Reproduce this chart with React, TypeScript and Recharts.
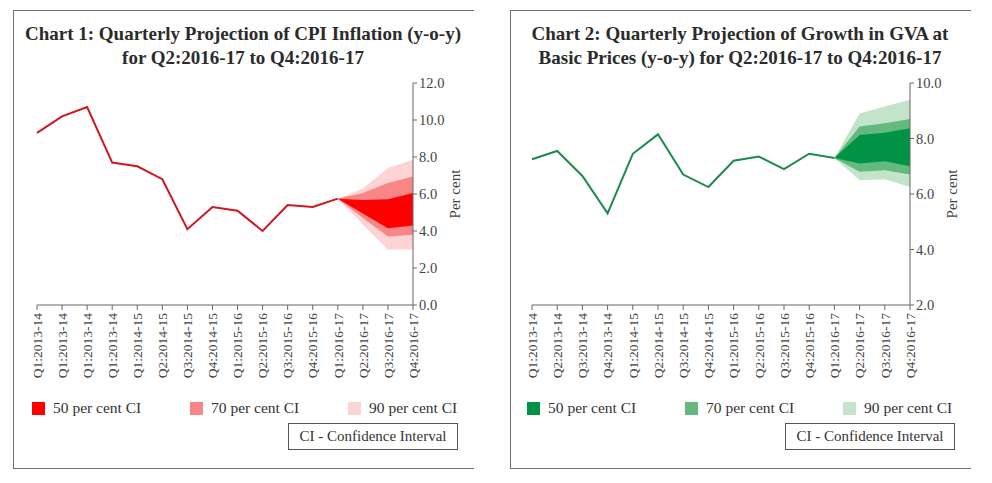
import React from "react";
import { ComposedChart, Area, Line, XAxis, YAxis } from "recharts";

// Chart 1 - CPI inflation (labels kept as printed in the source)
const CPI_QUARTERS = [
  "Q1:2013-14", "Q1:2013-14", "Q1:2013-14", "Q1:2013-14",
  "Q1:2014-15", "Q2:2014-15", "Q3:2014-15", "Q4:2014-15",
  "Q1:2015-16", "Q2:2015-16", "Q3:2015-16", "Q4:2015-16",
  "Q1:2016-17", "Q2:2016-17", "Q3:2016-17", "Q4:2016-17",
];
const CPI_ACTUAL = [9.3, 10.2, 10.7, 7.7, 7.5, 6.8, 4.1, 5.3, 5.1, 4.0, 5.4, 5.3, 5.75];
// fan bands start at Q1:2016-17 (index 12)
const CPI_LO90 = [5.75, 4.35, 3.0, 3.0];
const CPI_HI90 = [5.75, 6.3, 7.4, 7.85];
const CPI_LO70 = [5.75, 4.7, 3.7, 3.8];
const CPI_HI70 = [5.75, 6.05, 6.6, 6.95];
const CPI_LO50 = [5.75, 4.95, 4.15, 4.3];
const CPI_HI50 = [5.75, 5.68, 5.72, 6.05];
const CPI_TICKS = [0, 2, 4, 6, 8, 10, 12];

// Chart 2 - GVA growth
const GVA_QUARTERS = [
  "Q1:2013-14", "Q2:2013-14", "Q3:2013-14", "Q4:2013-14",
  "Q1:2014-15", "Q2:2014-15", "Q3:2014-15", "Q4:2014-15",
  "Q1:2015-16", "Q2:2015-16", "Q3:2015-16", "Q4:2015-16",
  "Q1:2016-17", "Q2:2016-17", "Q3:2016-17", "Q4:2016-17",
];
const GVA_ACTUAL = [7.25, 7.55, 6.65, 5.3, 7.45, 8.15, 6.7, 6.25, 7.2, 7.35, 6.9, 7.45, 7.3];
const GVA_LO90 = [7.3, 6.5, 6.53, 6.25];
const GVA_HI90 = [7.3, 8.9, 9.15, 9.4];
const GVA_LO70 = [7.3, 6.8, 6.86, 6.7];
const GVA_HI70 = [7.3, 8.43, 8.55, 8.7];
const GVA_LO50 = [7.3, 7.1, 7.18, 7.0];
const GVA_HI50 = [7.3, 8.13, 8.21, 8.37];
const GVA_TICKS = [2, 4, 6, 8, 10];

const LEGEND_LABELS = ["50 per cent CI", "70 per cent CI", "90 per cent CI"];

const SERIF = "'Liberation Serif', 'DejaVu Serif', serif";
const AXIS = "#666";

const RED = { line: "#cf1720", c50: "#ff0000", c70: "#f98686", c90: "#fdd3d3" };
const GREEN = { line: "#1f8a4c", c50: "#009245", c70: "#63b97e", c90: "#c3e4c9" };

const W = 480;
const H = 400;

function buildRows(cats: string[], actual: number[], bands: number[][]) {
  const start = actual.length - 1;
  return cats.map((_, i) => {
    const j = i - start;
    const fan = j >= 0;
    return {
      i,
      actual: i < actual.length ? actual[i] : null,
      b90: fan ? [bands[0][j], bands[1][j]] : null,
      b70: fan ? [bands[2][j], bands[3][j]] : null,
      b50: fan ? [bands[4][j], bands[5][j]] : null,
    };
  });
}

const QuarterTick = ({ x, y, payload, labels }: any) => (
  <text
    x={x}
    y={y}
    transform={`rotate(-90, ${x}, ${y})`}
    textAnchor="end"
    dy="0.35em"
    fill="#444"
    fontSize={13.5}
    fontFamily={SERIF}
  >
    {labels[payload.value]}
  </text>
);

const perCentLabel = (props: any) => {
  const vb = props.viewBox || { x: 0, y: 0, width: 0, height: 0 };
  const cx = vb.x + 42;
  const cy = vb.y + vb.height / 2;
  return (
    <text
      x={cx}
      y={cy}
      transform={`rotate(-90, ${cx}, ${cy})`}
      textAnchor="middle"
      dy="0.35em"
      fill="#444"
      fontSize={15}
      fontFamily={SERIF}
    >
      Per cent
    </text>
  );
};

function FanChart({ cats, rows, domain, ticks, colors, marginLeft, marginRight }: any) {
  const idx = cats.map((_: string, i: number) => i);
  return (
    <ComposedChart
      width={W}
      height={H}
      data={rows}
      margin={{ top: 83, right: marginRight, bottom: 15, left: marginLeft }}
    >
      <XAxis
        dataKey="i"
        type="number"
        domain={[0, cats.length - 1]}
        ticks={idx}
        interval={0}
        height={80}
        stroke={AXIS}
        tickSize={5}
        tickMargin={3}
        tick={<QuarterTick labels={cats} />}
      />
      <YAxis
        orientation="right"
        type="number"
        domain={domain}
        ticks={ticks}
        width={60}
        stroke={AXIS}
        tickSize={4}
        tickMargin={2}
        tickFormatter={(v: number) => v.toFixed(1)}
        tick={{ fill: "#444", fontSize: 14.5, fontFamily: SERIF }}
        label={perCentLabel}
      />
      <Area dataKey="b90" type="linear" stroke="none" fill={colors.c90} fillOpacity={1} isAnimationActive={false} />
      <Area dataKey="b70" type="linear" stroke="none" fill={colors.c70} fillOpacity={1} isAnimationActive={false} />
      <Area dataKey="b50" type="linear" stroke="none" fill={colors.c50} fillOpacity={1} isAnimationActive={false} />
      <Line dataKey="actual" type="linear" stroke={colors.line} strokeWidth={2} dot={false} isAnimationActive={false} />
    </ComposedChart>
  );
}

function Panel({ left, title, legendX, boxX, colors, children }: any) {
  const swatches = [colors.c50, colors.c70, colors.c90];
  return (
    <>
      <div
        style={{
          position: "absolute",
          left,
          top: 10,
          width: 460,
          height: 457,
          borderLeft: "1.5px solid #707070",
          borderTop: "1.5px solid #707070",
          borderBottom: "1.5px solid #707070",
        }}
      />
      <div
        style={{
          position: "absolute",
          left,
          top: 22,
          width: 460,
          textAlign: "center",
          fontFamily: SERIF,
          fontWeight: "bold",
          fontSize: 19,
          lineHeight: "24px",
          color: "#2b2b2b",
        }}
      >
        {title[0]}
        <br />
        {title[1]}
      </div>
      {children}
      {LEGEND_LABELS.map((lab, k) => (
        <div
          key={lab}
          style={{
            position: "absolute",
            left: legendX[k],
            top: 399,
            display: "flex",
            alignItems: "center",
            fontFamily: SERIF,
            fontSize: 15.5,
            color: "#333",
            whiteSpace: "nowrap",
          }}
        >
          <span style={{ width: 13, height: 13, background: swatches[k], marginRight: 8, display: "inline-block" }} />
          {lab}
        </div>
      ))}
      <div
        style={{
          position: "absolute",
          left: boxX,
          top: 423,
          width: 170,
          height: 27,
          border: "1px solid #555",
          boxSizing: "border-box",
          fontFamily: SERIF,
          fontSize: 15,
          color: "#333",
          textAlign: "center",
          lineHeight: "25px",
        }}
      >
        CI - Confidence Interval
      </div>
    </>
  );
}

export default function App() {
  const cpiRows = buildRows(CPI_QUARTERS, CPI_ACTUAL, [CPI_LO90, CPI_HI90, CPI_LO70, CPI_HI70, CPI_LO50, CPI_HI50]);
  const gvaRows = buildRows(GVA_QUARTERS, GVA_ACTUAL, [GVA_LO90, GVA_HI90, GVA_LO70, GVA_HI70, GVA_LO50, GVA_HI50]);

  return (
    <div style={{ position: "absolute", left: 0, top: 0, width: 992, height: 483, background: "#fff" }}>
      <Panel
        left={13}
        title={["Chart 1: Quarterly Projection of CPI Inflation (y-o-y)", "for Q2:2016-17 to Q4:2016-17"]}
        legendX={[32, 190, 348]}
        boxX={288}
        colors={RED}
      >
        <div style={{ position: "absolute", left: 0, top: 0 }}>
          <FanChart
            cats={CPI_QUARTERS}
            rows={cpiRows}
            domain={[0, 12]}
            ticks={CPI_TICKS}
            colors={RED}
            marginLeft={37}
            marginRight={7}
          />
        </div>
      </Panel>
      <Panel
        left={510}
        title={["Chart 2: Quarterly Projection of Growth in GVA at", "Basic Prices (y-o-y) for Q2:2016-17 to Q4:2016-17"]}
        legendX={[527, 685, 843]}
        boxX={785}
        colors={GREEN}
      >
        <div style={{ position: "absolute", left: 500, top: 0 }}>
          <FanChart
            cats={GVA_QUARTERS}
            rows={gvaRows}
            domain={[2, 10]}
            ticks={GVA_TICKS}
            colors={GREEN}
            marginLeft={32}
            marginRight={10}
          />
        </div>
      </Panel>
    </div>
  );
}
